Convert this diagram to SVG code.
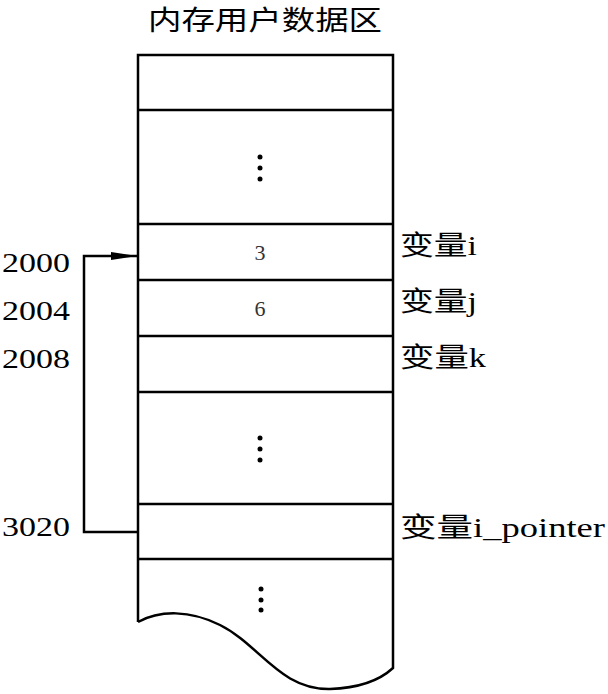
<svg xmlns="http://www.w3.org/2000/svg" width="608" height="694" viewBox="0 0 608 694">
<style>
.b{fill:none;stroke:#000;stroke-width:2.5}
.t{font-family:"Liberation Serif","Noto Sans CJK SC",serif;font-size:27px;fill:#000}
.c{font-family:"Liberation Serif",serif;font-size:22px;fill:#333;text-anchor:middle}
</style>
<defs><marker id="a" markerWidth="26" markerHeight="10" refX="26" refY="5" orient="auto" markerUnits="userSpaceOnUse"><path d="M0,1 L26,5 L0,9 Z"/></marker></defs>
<rect width="608" height="694" fill="#fff"/>
<text class="t" x="148" y="30" font-size="30" textLength="234" lengthAdjust="spacingAndGlyphs">内存用户数据区</text>
<g id="memory">
<path class="b" d="M138,622 V55 H393 V668 C380,680 360,688 330,689 C280,690 260,645 220,625 C190,610 160,610 138,622"/>
<path class="b" d="M138,110H393M138,224H393M138,280H393M138,336H393M138,392H393M138,504H393M138,559H393"/>
<g fill="#000"><circle cx="260" cy="157" r="2.5"/><circle cx="260" cy="168" r="2.5"/><circle cx="260" cy="179" r="2.5"/>
<circle cx="260" cy="438" r="2.5"/><circle cx="260" cy="449" r="2.5"/><circle cx="260" cy="460" r="2.5"/>
<circle cx="261" cy="589" r="2.5"/><circle cx="261" cy="600" r="2.5"/><circle cx="261" cy="610" r="2.5"/></g>
<text class="c" x="260" y="260">3</text><text class="c" x="260" y="316">6</text>
</g>
<g id="labels">
<text class="t" x="400" y="255" textLength="77" lengthAdjust="spacingAndGlyphs">变量i</text>
<text class="t" x="400" y="311" textLength="77" lengthAdjust="spacingAndGlyphs">变量j</text>
<text class="t" x="400" y="367" textLength="86" lengthAdjust="spacingAndGlyphs">变量k</text>
<text class="t" x="400" y="537" textLength="205" lengthAdjust="spacingAndGlyphs">变量i_pointer</text>
<text class="t" x="2" y="272" textLength="68" lengthAdjust="spacingAndGlyphs">2000</text>
<text class="t" x="2" y="320" textLength="68" lengthAdjust="spacingAndGlyphs">2004</text>
<text class="t" x="2" y="368" textLength="68" lengthAdjust="spacingAndGlyphs">2008</text>
<text class="t" x="2" y="536" textLength="68" lengthAdjust="spacingAndGlyphs">3020</text>
</g>
<g id="connectors"><path class="b" stroke-width="2" d="M138,532 H84 V256 H137" marker-end="url(#a)"/></g>
</svg>
